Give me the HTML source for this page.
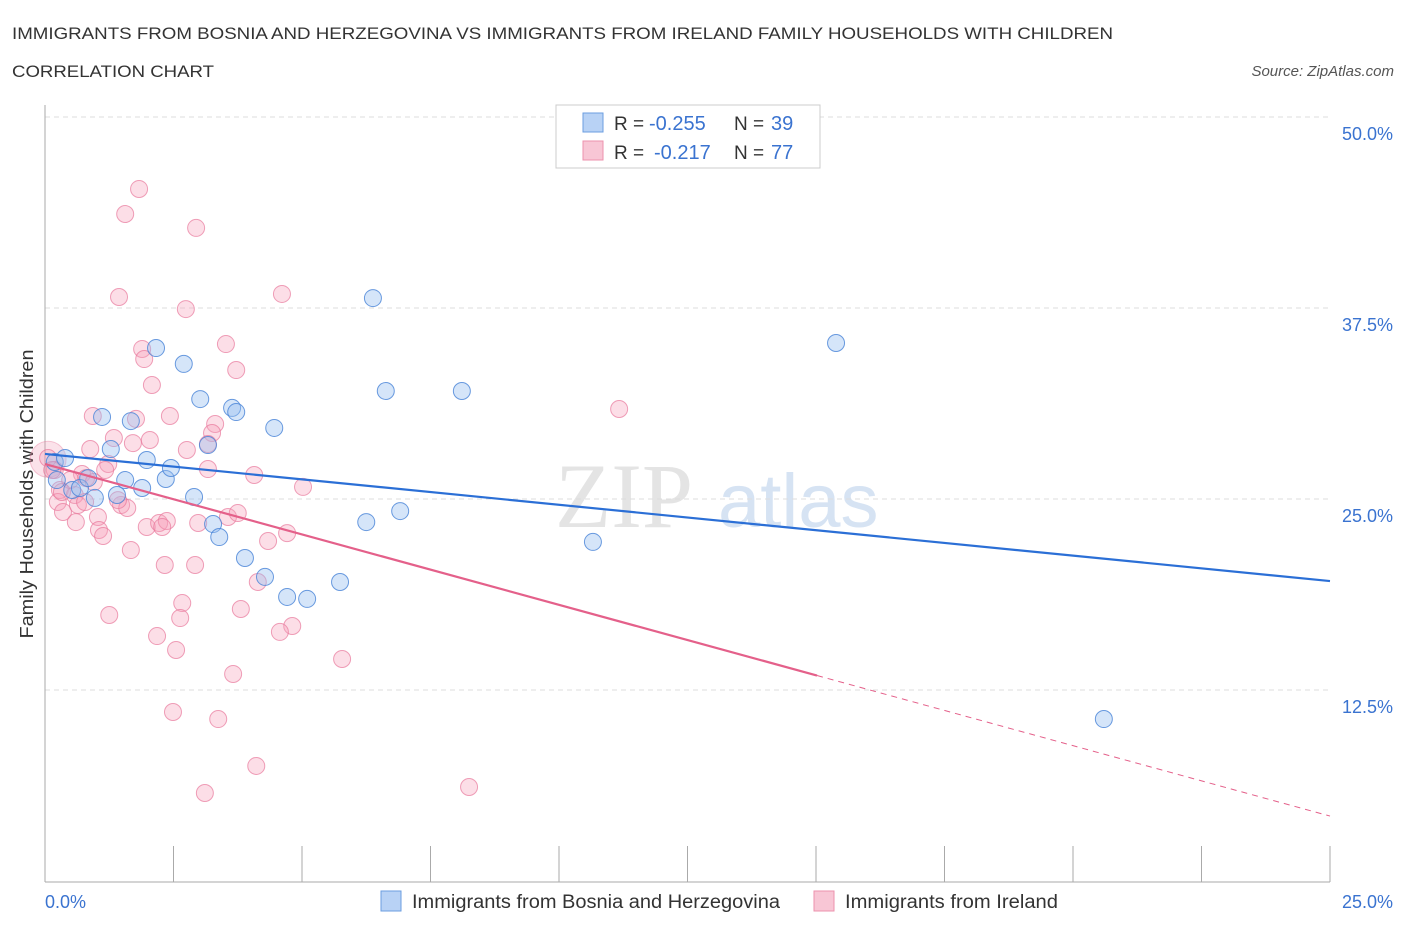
<!DOCTYPE html>
<html><head><meta charset="utf-8"><style>
body{margin:0;background:#fff;font-family:"Liberation Sans",sans-serif;}
svg{display:block}
</style></head><body>
<svg width="1406" height="930" id="chart">
<text x="12" y="39" font-size="17" fill="#333" textLength="1101" lengthAdjust="spacingAndGlyphs">IMMIGRANTS FROM BOSNIA AND HERZEGOVINA VS IMMIGRANTS FROM IRELAND FAMILY HOUSEHOLDS WITH CHILDREN</text>
<text x="12" y="77" font-size="17" fill="#333" textLength="202" lengthAdjust="spacingAndGlyphs">CORRELATION CHART</text>
<text x="1394" y="76" font-size="15" fill="#555" font-style="italic" text-anchor="end">Source: ZipAtlas.com</text>
<text x="33" y="494" font-size="18" fill="#333" transform="rotate(-90 33 494)" text-anchor="middle" textLength="289" lengthAdjust="spacingAndGlyphs">Family Households with Children</text>
<g><text x="555" y="527" font-size="92" fill="#e4e4e4" font-family="Liberation Serif,serif">ZIP</text><text x="718" y="527" font-size="76" fill="#d6e3f3">atlas</text></g>
<g id="grid"></g><g id="axes"></g><g id="pts"></g><g id="lines"></g>
<g>
<rect x="556" y="105" width="264" height="63" fill="#fff" stroke="#ccc"/>
<rect x="583" y="113" width="20" height="19" fill="#b8d2f5" stroke="#6b9ee0"/>
<rect x="583" y="141" width="20" height="19" fill="#f8c6d5" stroke="#ec92ad"/>
<text x="614" y="130" font-size="19" fill="#333">R =</text>
<text x="649" y="130" font-size="20" fill="#3a73d0">-0.255</text>
<text x="734" y="130" font-size="19" fill="#333">N =</text>
<text x="771" y="130" font-size="20" fill="#3a73d0">39</text>
<text x="614" y="159" font-size="19" fill="#333">R =</text>
<text x="654" y="159" font-size="20" fill="#3a73d0">-0.217</text>
<text x="734" y="159" font-size="19" fill="#333">N =</text>
<text x="771" y="159" font-size="20" fill="#3a73d0">77</text>
</g>
<g>
<rect x="381" y="891" width="20" height="20" fill="#b8d2f5" stroke="#6b9ee0"/>
<text x="412" y="908" font-size="19" fill="#333" textLength="368" lengthAdjust="spacingAndGlyphs">Immigrants from Bosnia and Herzegovina</text>
<rect x="814" y="891" width="20" height="20" fill="#f8c6d5" stroke="#ec92ad"/>
<text x="845" y="908" font-size="19" fill="#333" textLength="213" lengthAdjust="spacingAndGlyphs">Immigrants from Ireland</text>
</g>
</svg>
<script>
const yTicks=[12.5,25,37.5,50];
const yTickLabels=["12.5%","25.0%","37.5%","50.0%"];
const xTickLabels=["0.0%","25.0%"];
const blueX=[0.19,0.23,0.39,0.53,0.68,0.84,0.97,1.11,1.28,1.40,1.56,1.67,1.89,1.98,2.16,2.35,2.45,2.70,2.90,3.02,3.17,3.27,3.39,3.64,3.72,3.89,4.28,4.46,4.71,5.10,5.74,6.25,6.38,6.63,6.91,8.11,10.66,15.39,20.60];
const blueY=[27.42,26.24,27.68,25.59,25.72,26.37,25.07,30.37,28.27,25.26,26.24,30.10,25.72,27.55,34.88,26.31,27.03,33.84,25.13,31.54,28.53,23.36,22.51,30.96,30.69,21.14,19.90,29.65,18.59,18.46,19.57,23.49,38.15,32.07,24.21,32.07,22.19,35.21,10.60];
const pinkX=[1.83,1.56,2.94,1.44,4.61,2.74,1.89,3.52,1.93,2.08,3.72,0.93,1.77,2.43,11.17,3.31,3.25,1.34,2.04,1.71,0.88,2.76,3.17,1.23,3.17,4.07,5.02,0.72,0.80,0.19,0.29,0.58,0.25,0.35,0.64,1.03,0.60,1.05,1.13,1.48,1.60,1.98,2.22,2.37,2.28,2.98,3.56,3.75,4.34,4.71,1.67,2.33,2.92,1.25,2.67,2.63,3.81,4.14,4.81,4.57,2.18,2.55,5.78,3.66,2.49,3.37,4.11,3.11,8.25,0.06,0.14,0.49,0.33,1.42,0.78,1.17,0.95];
const pinkY=[45.29,43.65,42.74,38.22,38.42,37.43,34.82,35.14,34.16,32.46,33.44,30.43,30.24,30.43,30.89,29.91,29.32,28.99,28.86,28.66,28.27,28.21,28.60,27.29,26.96,26.57,25.79,26.64,26.37,26.90,25.59,25.26,24.80,24.15,24.61,23.82,23.49,22.97,22.58,24.61,24.41,23.17,23.43,23.56,23.17,23.43,23.82,24.08,22.25,22.77,21.66,20.68,20.68,17.41,18.19,17.21,17.80,19.57,16.69,16.30,16.03,15.12,14.53,13.55,11.06,10.60,7.53,5.76,6.15,27.68,26.90,26.24,25.46,24.93,24.80,26.90,26.11];
const blueTrend=[27.95,19.63];
const pinkTrend=[27.29,4.25];
const pinkSolidEnd=15.02;
const X=v=>45+v*51.4, Y=v=>690-(v-12.5)*15.28;
const NS="http://www.w3.org/2000/svg";
function mk(p,t,a){const e=document.createElementNS(NS,t);for(const k in a)e.setAttribute(k,a[k]);document.getElementById(p).appendChild(e);return e;}
yTicks.forEach((t,i)=>{
 const g=mk('grid','line',{x1:45,x2:1330,y1:Y(t),y2:Y(t),stroke:'#ddd','stroke-dasharray':'5,4'});
 
 
 const l=mk('axes','text',{x:1393,y:Y(t)+23,'font-size':18,fill:'#3a73d0','text-anchor':'end'});
 l.textContent=yTickLabels[i];
 
 
});
let a=mk('axes','line',{x1:45,x2:45,y1:105,y2:882,stroke:'#aaa'});


a=mk('axes','line',{x1:45,x2:1330,y1:882,y2:882,stroke:'#aaa'});


for(let i=0;i<=10;i++){const tk=mk('axes','line',{x1:45+i*128.5,x2:45+i*128.5,y1:846,y2:882,stroke:'#aaa'});
 
 }
[[0,45,'start'],[25,1393,'end']].forEach((d,i)=>{const l=mk('axes','text',{x:d[1],y:908,'font-size':18,fill:'#3a73d0','text-anchor':d[2]});l.textContent=xTickLabels[i];
 
 });
let big=mk('pts','circle',{cx:X(0.06),cy:Y(27.6),r:18,fill:'rgba(240,140,170,0.25)',stroke:'rgba(230,120,155,0.4)'});


pinkX.forEach((v,i)=>{const c=mk('pts','circle',{cx:X(v),cy:Y(pinkY[i]),r:8.5,fill:'rgba(245,160,185,0.35)',stroke:'rgba(232,120,155,0.7)','stroke-width':1});
 
 });
blueX.forEach((v,i)=>{const c=mk('pts','circle',{cx:X(v),cy:Y(blueY[i]),r:8.5,fill:'rgba(150,190,240,0.4)',stroke:'rgba(70,130,215,0.8)','stroke-width':1});
 
 });
let ln=mk('lines','line',{x1:X(0),y1:Y(blueTrend[0]),x2:X(25),y2:Y(blueTrend[1]),stroke:'#2b6fd6','stroke-width':2.2});


const py=x=>pinkTrend[0]+(pinkTrend[1]-pinkTrend[0])*x/25;
ln=mk('lines','line',{x1:X(0),y1:Y(pinkTrend[0]),x2:X(pinkSolidEnd),y2:Y(py(pinkSolidEnd)),stroke:'#e4608a','stroke-width':2.2});


ln=mk('lines','line',{x1:X(pinkSolidEnd),y1:Y(py(pinkSolidEnd)),x2:X(25),y2:Y(pinkTrend[1]),stroke:'#e4608a','stroke-width':1,'stroke-dasharray':'6,5'});


</script>
</body></html>
